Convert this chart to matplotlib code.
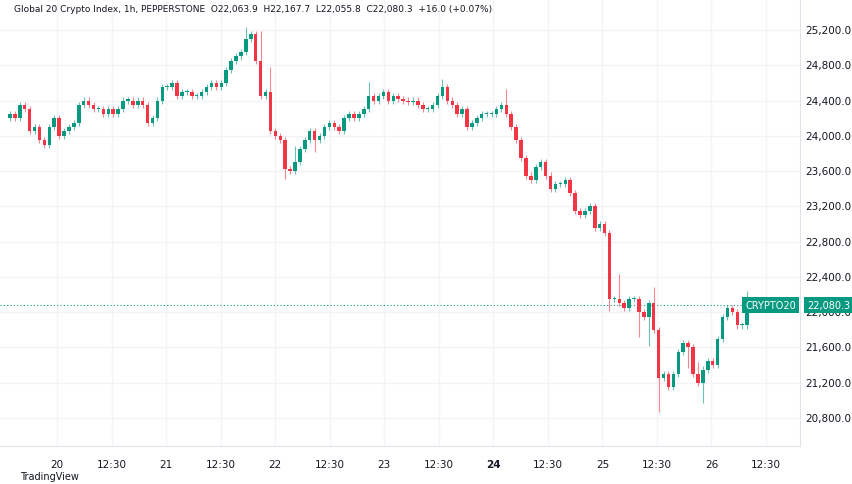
import numpy as np
import matplotlib
matplotlib.use("Agg")
import matplotlib.pyplot as plt

closes = [24250,24200,24350,24300,24050,24100,23950,23900,24100,24200,24000,24050,24100,24150,24350,
24400,24350,24300,24300,24250,24300,24250,24300,24400,24400,24350,24400,24350,24150,24200,24400,24550,
24550,24600,24450,24500,24500,24450,24450,24500,24550,24600,24550,24600,24750,24850,24900,24950,25100,
25150,24850,24450,24500,24050,24000,23950,23620,23600,23700,23850,23950,24050,23950,24000,24100,24150,
24100,24050,24200,24250,24200,24250,24300,24450,24400,24450,24500,24400,24450,24420,24400,24380,24400,
24350,24300,24300,24350,24450,24550,24400,24350,24250,24300,24100,24150,24200,24250,24250,24250,24300,
24350,24250,24100,23950,23750,23550,23500,23650,23700,23550,23400,23450,23450,23500,23350,23150,23100,
23150,23200,22950,23000,22900,22150,22150,22100,22050,22150,22150,22000,21950,22100,21800,21250,21300,
21150,21300,21550,21650,21600,21300,21200,21350,21450,21400,21700,21950,22050,22000,21850,21850,22050,22080.3]
first_open = 24200
big_wicks_high = {48: 100, 51: 300, 53: 250, 58: 150, 73: 120, 88: 60, 101: 150, 124: 250, 131: 150, 140: 100, 150: 150}
big_wicks_low = {56: 80, 62: 100, 122: 100, 130: 300, 132: 350, 138: 200, 141: 200, 128: 250}
tick_labels = ["20", "12:30", "21", "12:30", "22", "12:30", "23", "12:30", "24", "12:30", "25", "12:30", "26", "12:30"]
y_ticks = [20800, 21200, 21600, 22000, 22400, 22800, 23200, 23600, 24000, 24400, 24800, 25200]

W, H = 852, 485
fig = plt.figure(figsize=(W/100, H/100), dpi=100)
ax = fig.add_axes([0, 38/H, 800/W, 1-38/H])
n = len(closes)
x = np.linspace(10, 752, n)
opens = [first_open] + closes[:-1]
green, red = "#089981", "#F23645"
for i in range(n):
    o, c = opens[i], closes[i]
    col = green if c >= o else red
    hi = max(o, c) + 35 + big_wicks_high.get(i, 0)
    lo = min(o, c) - 35 - big_wicks_low.get(i, 0)
    ax.vlines(x[i], lo, hi, color=col, lw=0.8, alpha=0.6, zorder=2)
    b = max(abs(c - o), 12)
    ax.bar(x[i], b, bottom=min(o, c), width=3.5, color=col, zorder=3, linewidth=0)

ax.set_xlim(0, 800)
y0 = lambda py: 25200 - (py - 31) * 11.34
ax.set_ylim(y0(447), y0(0))
tick_px = np.linspace(57, 766, len(tick_labels))
ax.set_xticks(tick_px)
ax.set_yticks(y_ticks)
ax.grid(color="#f3f4f7", lw=1)
ax.set_axisbelow(True)
ax.tick_params(length=0, labelbottom=False, labelleft=False)
for s in ax.spines.values():
    s.set_visible(False)
ax.spines["right"].set_visible(True); ax.spines["right"].set_color("#e0e3eb")
ax.spines["bottom"].set_visible(True); ax.spines["bottom"].set_color("#e0e3eb")
for px, lab in zip(tick_px, tick_labels):
    ax.text(px, -0.04, lab, transform=ax.get_xaxis_transform(), ha="center", va="center",
            fontsize=7.5, color="#131722", fontweight="bold" if lab in ("24",) else "normal")
for v in y_ticks:
    ax.text(805, v, f"{v:,.1f}", transform=ax.transData, ha="left", va="center", fontsize=7.5,
            color="#131722", clip_on=False)
last = closes[-1]
ax.axhline(last, color=green, lw=0.8, ls=(0, (1, 2)))
ax.text(796, last, "CRYPTO20", ha="right", va="center", fontsize=7, color="white",
        bbox=dict(boxstyle="square,pad=0.3", fc=green, ec="none"), zorder=5, clip_on=False)
ax.text(807, last, f"{last:,.1f}", ha="left", va="center", fontsize=7, color="white",
        bbox=dict(boxstyle="square,pad=0.3", fc=green, ec="none"), zorder=6, clip_on=False)
fig.text(14/W, 1-5/H, "Global 20 Crypto Index, 1h, PEPPERSTONE  O22,063.9  H22,167.7  L22,055.8  C22,080.3  +16.0 (+0.07%)",
         ha="left", va="top", fontsize=6.5, color="#131722")
fig.text(20/W, 8/H, "TradingView", ha="left", va="center", fontsize=7, color="#131722")
fig.savefig("out.png", dpi=100)
